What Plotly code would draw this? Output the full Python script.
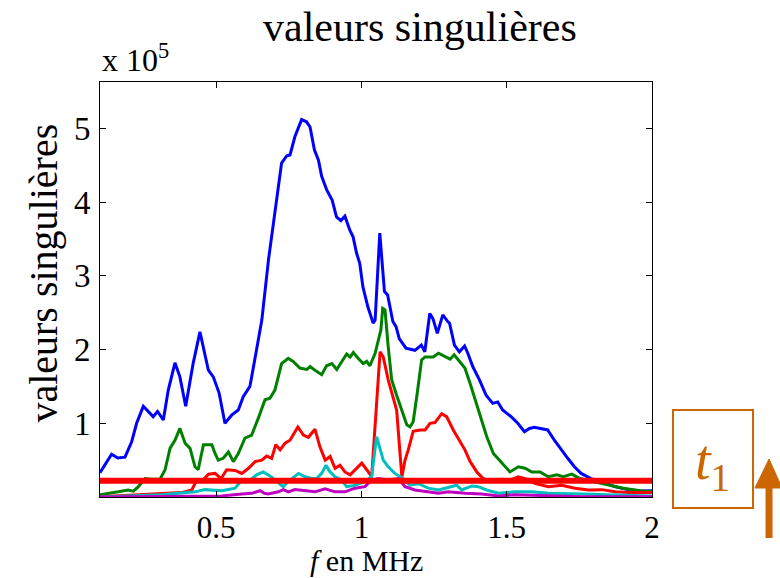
import plotly.graph_objects as go

# frequencies (MHz) and singular values (x 1e5)
blue_f = [0.100,0.140,0.161,0.186,0.209,0.226,0.249,0.283,0.298,0.318,0.335,0.358,0.375,0.395,0.421,0.444,0.473,0.490,0.510,0.530,0.553,0.576,0.593,0.616,0.639,0.657,0.680,0.702,0.725,0.743,0.754,0.771,0.794,0.811,0.823,0.838,0.852,0.863,0.880,0.899,0.914,0.929,0.943,0.960,0.971,0.983,0.994,1.005,1.022,1.040,1.047,1.063,1.079,1.090,1.108,1.119,1.130,1.153,1.184,1.206,1.218,1.235,1.246,1.261,1.280,1.297,1.303,1.320,1.337,1.355,1.366,1.383,1.406,1.429,1.452,1.469,1.486,1.515,1.538,1.561,1.578,1.595,1.618,1.641,1.664,1.687,1.710,1.733,1.756,1.790,1.825,1.871,1.917,1.963,2.000]
blue_v = [0.33,0.58,0.53,0.54,0.75,1.00,1.23,1.09,1.16,1.045,1.45,1.82,1.63,1.23,1.82,2.24,1.72,1.63,1.41,1.00,1.11,1.18,1.36,1.50,2.00,2.40,3.22,3.89,4.53,4.63,4.64,4.89,5.12,5.09,5.02,4.71,4.57,4.35,4.17,4.03,3.80,3.75,3.81,3.62,3.53,3.31,3.17,2.85,2.58,2.36,2.40,3.58,2.79,2.74,2.38,2.31,2.15,2.02,1.99,2.06,1.97,2.49,2.42,2.22,2.47,2.38,2.36,2.06,1.97,2.05,1.95,1.77,1.59,1.38,1.27,1.29,1.18,1.09,1.00,0.886,0.93,0.945,0.93,0.91,0.77,0.64,0.525,0.41,0.32,0.25,0.21,0.14,0.10,0.08,0.085]

green_f = [0.100,0.140,0.163,0.197,0.215,0.232,0.255,0.278,0.307,0.324,0.341,0.358,0.375,0.393,0.410,0.427,0.438,0.456,0.485,0.496,0.507,0.524,0.542,0.559,0.576,0.599,0.622,0.645,0.668,0.685,0.702,0.725,0.748,0.765,0.788,0.812,0.823,0.840,0.863,0.880,0.898,0.915,0.932,0.949,0.961,0.972,0.989,1.006,1.018,1.029,1.047,1.058,1.067,1.073,1.081,1.092,1.104,1.121,1.139,1.156,1.167,1.178,1.192,1.207,1.219,1.247,1.265,1.288,1.305,1.319,1.339,1.356,1.374,1.391,1.408,1.431,1.454,1.483,1.511,1.540,1.563,1.586,1.615,1.643,1.672,1.695,1.724,1.752,1.798,1.844,1.901,1.959,2.000]
green_v = [0.03,0.05,0.07,0.095,0.08,0.14,0.25,0.24,0.245,0.37,0.66,0.77,0.93,0.73,0.66,0.41,0.37,0.71,0.71,0.59,0.50,0.525,0.61,0.48,0.59,0.80,0.84,1.07,1.32,1.34,1.45,1.81,1.88,1.84,1.75,1.73,1.77,1.72,1.66,1.78,1.81,1.73,1.84,1.94,1.90,1.96,1.88,1.81,1.84,1.78,1.95,2.13,2.27,2.56,2.54,2.04,1.59,1.38,1.18,0.98,0.95,1.02,1.41,1.86,1.90,1.90,1.95,1.90,1.87,1.93,1.84,1.75,1.54,1.32,1.09,0.82,0.59,0.46,0.34,0.41,0.39,0.34,0.34,0.275,0.30,0.275,0.31,0.25,0.21,0.16,0.12,0.085,0.07]

red_f = [0.100,0.278,0.381,0.416,0.433,0.450,0.473,0.496,0.517,0.536,0.565,0.588,0.611,0.634,0.657,0.674,0.691,0.705,0.720,0.737,0.754,0.781,0.800,0.817,0.840,0.857,0.875,0.892,0.909,0.926,0.943,0.961,0.978,1.001,1.018,1.035,1.064,1.075,1.092,1.110,1.121,1.139,1.150,1.161,1.178,1.202,1.219,1.236,1.253,1.276,1.293,1.316,1.339,1.356,1.374,1.397,1.419,1.443,1.483,1.511,1.540,1.563,1.597,1.643,1.689,1.735,1.781,1.827,1.873,1.919,1.987,2.000]
red_v = [0.005,0.04,0.06,0.095,0.23,0.21,0.31,0.32,0.25,0.37,0.36,0.32,0.39,0.48,0.50,0.556,0.525,0.71,0.64,0.73,0.77,0.95,0.84,0.81,0.92,0.68,0.50,0.55,0.39,0.43,0.34,0.30,0.37,0.46,0.37,0.275,1.97,1.90,1.59,1.32,1.18,0.275,0.50,0.64,0.89,0.91,0.91,1.00,1.01,1.13,1.09,0.91,0.75,0.64,0.48,0.34,0.25,0.22,0.24,0.23,0.275,0.25,0.185,0.14,0.16,0.12,0.095,0.10,0.07,0.06,0.06,0.06]

cyan_f = [0.100,0.312,0.427,0.461,0.519,0.565,0.588,0.611,0.639,0.662,0.685,0.708,0.731,0.748,0.783,0.806,0.829,0.846,0.863,0.878,0.892,0.909,0.932,0.949,0.978,1.012,1.035,1.052,1.064,1.075,1.092,1.115,1.144,1.167,1.196,1.230,1.265,1.299,1.328,1.345,1.380,1.402,1.431,1.471,1.529,1.586,1.643,1.758,1.873,2.000]
cyan_v = [0.0,0.03,0.07,0.10,0.085,0.12,0.23,0.21,0.30,0.34,0.285,0.21,0.14,0.21,0.32,0.275,0.25,0.25,0.32,0.43,0.34,0.275,0.23,0.14,0.16,0.21,0.275,0.82,0.66,0.50,0.41,0.32,0.25,0.16,0.18,0.12,0.095,0.13,0.16,0.095,0.15,0.14,0.095,0.05,0.07,0.07,0.05,0.04,0.03,0.015]

magenta_f = [0.100,0.300,0.519,0.588,0.622,0.651,0.666,0.679,0.714,0.731,0.748,0.771,0.806,0.840,0.875,0.909,0.943,0.978,1.012,1.035,1.058,1.092,1.127,1.150,1.184,1.230,1.265,1.299,1.356,1.414,1.471,1.529,1.643,1.758,2.000]
magenta_v = [0.0,0.005,0.015,0.04,0.05,0.085,0.05,0.04,0.07,0.10,0.07,0.10,0.085,0.07,0.11,0.07,0.07,0.12,0.14,0.23,0.25,0.23,0.25,0.14,0.095,0.07,0.05,0.07,0.05,0.04,0.015,0.03,0.015,0.005,0.005]

threshold = 0.22
f_range = [0.1, 2.0]
x_ticks = [0.5, 1, 1.5, 2]
x_tick_text = ["0.5", "1", "1.5", "2"]
y_ticks = [1, 2, 3, 4, 5]

series = [
    (blue_f, blue_v, "rgb(0,0,255)"),
    (green_f, green_v, "rgb(0,128,0)"),
    (red_f, red_v, "rgb(255,0,0)"),
    (cyan_f, cyan_v, "rgb(0,191,191)"),
    (magenta_f, magenta_v, "rgb(191,0,191)"),
]

FONT = "Liberation Serif, Times New Roman, serif"
ORANGE = "rgb(204,102,0)"

fig = go.Figure()
for fx, vy, col in series:
    fig.add_trace(go.Scatter(x=fx, y=vy, mode="lines",
                             line=dict(color=col, width=3), showlegend=False))
fig.add_trace(go.Scatter(x=f_range, y=[threshold, threshold], mode="lines",
                         line=dict(color="rgb(255,0,0)", width=6), showlegend=False))

fig.update_layout(
    width=780, height=578,
    margin=dict(l=100, r=128, t=82, b=81),
    paper_bgcolor="white", plot_bgcolor="white",
    font=dict(family=FONT, color="black", size=31),
    xaxis=dict(range=f_range, tickvals=x_ticks, ticktext=x_tick_text,
               ticks="inside", ticklen=6, tickcolor="black", showline=True,
               linecolor="black", linewidth=1, mirror="ticks", showgrid=False,
               zeroline=False, ticklabelstandoff=3,
               tickfont=dict(size=31, family=FONT, color="black")),
    yaxis=dict(range=[0, 5.63], tickvals=y_ticks, ticktext=[str(v) for v in y_ticks],
               ticks="inside", ticklen=6, tickcolor="black", showline=True,
               linecolor="black", linewidth=1, mirror="ticks", showgrid=False,
               zeroline=False, ticklabelstandoff=2,
               tickfont=dict(size=33, family=FONT, color="black")),
    annotations=[
        dict(text="valeurs singulières", xref="paper", yref="paper", x=0.58, y=1.133,
             xanchor="center", yanchor="middle", showarrow=False,
             font=dict(size=42, family=FONT, color="black")),
        dict(text="x 10<sup>5</sup>", xref="paper", yref="paper", x=0.0, y=1.005,
             xanchor="left", yanchor="bottom", showarrow=False,
             font=dict(size=32, family=FONT, color="black")),
        dict(text="valeurs singulières", xref="paper", yref="paper", x=-0.102, y=0.54,
             xanchor="center", yanchor="middle", textangle=-90, showarrow=False,
             font=dict(size=40, family=FONT, color="black")),
        dict(text="<i>f</i> en MHz", xref="paper", yref="paper", x=0.483, y=-0.152,
             xanchor="center", yanchor="middle", showarrow=False,
             font=dict(size=30, family=FONT, color="black")),
        dict(text="<i>t</i><sub>1</sub>", xref="paper", yref="paper", x=1.110, y=0.08,
             xanchor="center", yanchor="middle", showarrow=False,
             font=dict(size=56, family=FONT, color=ORANGE)),
    ],
    shapes=[
        dict(type="rect", xref="paper", yref="paper", x0=1.038, x1=1.183, y0=-0.0265, y1=0.2096,
             line=dict(color=ORANGE, width=2)),
        dict(type="line", xref="paper", yref="paper", x0=1.212, x1=1.212, y0=-0.0988, y1=0.03,
             line=dict(color=ORANGE, width=7)),
        dict(type="path", xref="paper", yref="paper",
             path="M 1.1866 0.0217 L 1.2355 0.0217 L 1.212 0.0916 Z",
             fillcolor=ORANGE, line=dict(color=ORANGE, width=1)),
    ],
)

fig.write_html("out.html")
